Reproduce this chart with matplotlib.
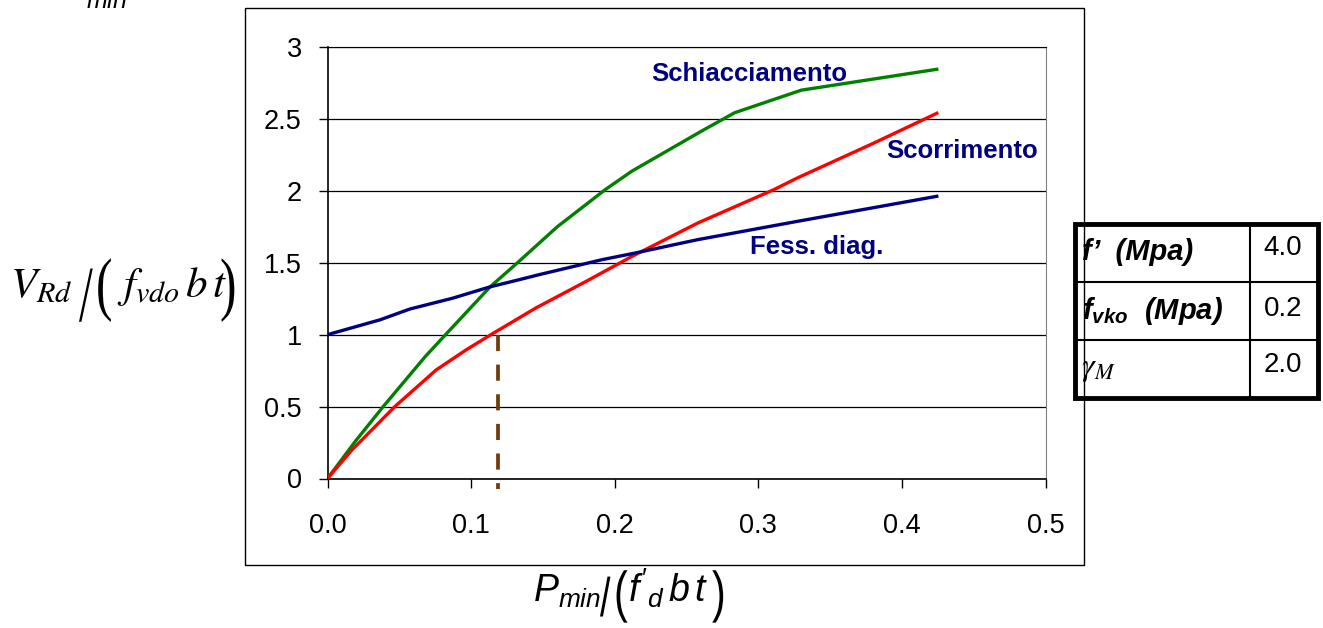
import matplotlib
matplotlib.use("Agg")
import matplotlib.pyplot as plt
from matplotlib.lines import Line2D
from matplotlib.patches import Rectangle, PathPatch
from matplotlib.textpath import TextPath
from matplotlib.font_manager import FontProperties
from matplotlib.transforms import Affine2D

plt.rcParams['font.family'] = ['Liberation Sans', 'DejaVu Sans']
plt.rcParams['mathtext.fontset'] = 'custom'
plt.rcParams['mathtext.rm'] = 'Liberation Sans'
plt.rcParams['mathtext.it'] = 'Liberation Sans:italic'
plt.rcParams['mathtext.bf'] = 'Liberation Sans:italic:bold'

# curves
x_schiacc = [0.0, 0.0195, 0.0388, 0.068, 0.0822, 0.113, 0.1334, 0.16, 0.1935, 0.212, 0.2604, 0.2835, 0.33, 0.4243]
y_schiacc = [0.0, 0.26, 0.5, 0.847, 1.0, 1.33, 1.51, 1.75, 2.009, 2.137, 2.415, 2.543, 2.70, 2.845]

x_scorr = [0.0, 0.0169, 0.0469, 0.0757, 0.0965, 0.1138, 0.145, 0.18, 0.212, 0.258, 0.311, 0.3273, 0.38, 0.4243]
y_scorr = [0.0, 0.197, 0.5, 0.755, 0.894, 1.0, 1.185, 1.37, 1.544, 1.777, 2.009, 2.09, 2.33, 2.539]

x_fess = [0.0, 0.0365, 0.0573, 0.0873, 0.1127, 0.1334, 0.1473, 0.191, 0.214, 0.258, 0.3273, 0.4243]
y_fess = [1.0, 1.103, 1.178, 1.254, 1.331, 1.382, 1.417, 1.521, 1.567, 1.661, 1.788, 1.962]

x_mark = 0.1184
y_mark = 1.0

xticks = [0.0, 0.1, 0.2, 0.3, 0.4, 0.5]
yticks = [0, 0.5, 1, 1.5, 2, 2.5, 3]
ytick_labels = ['0', '0.5', '1', '1.5', '2', '2.5', '3']

tab_names = [r"f’  (Mpa)", r"$\mathbf{f_{vko}}$  (Mpa)", r"$\gamma_M$"]
tab_values = ['4.0', '0.2', '2.0']

FW, FH = 13.23, 6.28
fig = plt.figure(figsize=(FW, FH), dpi=100)
W, H = 1323.0, 628.0

def fx(px):
    return px / W

def fy(py):
    return 1 - py / H

def big_glyph(ch, family, size, px, py, sx, sy):
    # a glyph stretched vertically (equation-editor style brackets and slash)
    path = TextPath((0, 0), ch, size=size, prop=FontProperties(family=family))
    tr = Affine2D().scale(sx / 72.0 / FW, sy / 72.0 / FH).translate(fx(px), fy(py)) + fig.transFigure
    fig.add_artist(PathPatch(path, transform=tr, facecolor='black', edgecolor='none'))

# outer frame around the chart
fig.add_artist(Rectangle((fx(245), fy(565)), fx(1084) - fx(245), fy(8) - fy(565),
                         transform=fig.transFigure, fill=False, edgecolor='black',
                         linewidth=1.0, zorder=5))

ax = fig.add_axes([fx(327.5), fy(478.5), fx(1045.5) - fx(327.5), fy(47) - fy(478.5)])

ax.plot(x_schiacc, y_schiacc, color='#008000', linewidth=2.4, zorder=3)
ax.plot(x_scorr, y_scorr, color='#ff0000', linewidth=2.4, zorder=3)
ax.plot(x_fess, y_fess, color='#000080', linewidth=2.4, zorder=4)
ax.plot([x_mark, x_mark], [y_mark, -0.07], color='#6e3c0c', linewidth=2.7,
        linestyle=(0, (4.3, 3.6)), clip_on=False, zorder=2)

ax.set_xlim(0, 0.5)
ax.set_ylim(0, 3)
ax.set_xticks(xticks)
ax.set_xticklabels(['%.1f' % v for v in xticks])
ax.set_yticks(yticks)
ax.set_yticklabels(ytick_labels)
ax.tick_params(axis='both', labelsize=19.5, direction='out', length=6.5, width=1, color='black')
ax.tick_params(axis='x', pad=18)
ax.tick_params(axis='y', pad=12)
ax.grid(axis='y', color='black', linewidth=0.9)
ax.spines['top'].set_color('black')
ax.spines['right'].set_color('#808080')
for s in ['left', 'bottom']:
    ax.spines[s].set_linewidth(1.2)

ax.text(0.294, 2.81, 'Schiacciamento', color='#000080', fontsize=18.5, fontweight='bold',
        ha='center', va='center')
ax.text(0.442, 2.28, 'Scorrimento', color='#000080', fontsize=18.5, fontweight='bold',
        ha='center', va='center', clip_on=False)
ax.text(0.341, 1.61, 'Fess. diag.', color='#000080', fontsize=18.5, fontweight='bold',
        ha='center', va='center')

# y axis title, built from pieces so the slash and brackets can be taller
fig.text(fx(10), fy(297), r'$V_{Rd}$', fontsize=31, ha='left', va='baseline',
         math_fontfamily='stix')
big_glyph('/', 'Liberation Serif', 31, 79, 321, 1.15, 1.85)
big_glyph('(', 'Liberation Serif', 31, 96, 307, 1.15, 1.63)
fig.text(fx(117), fy(297), r'$f_{vdo}\,b\,t$', fontsize=31, ha='left', va='baseline',
         math_fontfamily='stix')
big_glyph(')', 'Liberation Serif', 31, 220, 307, 1.15, 1.63)

# x axis title
fig.text(fx(533), fy(602), r'$P_{min}$', fontsize=27, ha='left', va='baseline')
big_glyph('/', 'Liberation Sans', 27, 600, 616, 1.0, 1.45)
big_glyph('(', 'Liberation Sans', 27, 614, 611, 1.1, 1.5)
fig.text(fx(628), fy(602), r"$f'_{d}\,b\,t$", fontsize=27, ha='left', va='baseline')
big_glyph(')', 'Liberation Sans', 27, 712, 611, 1.1, 1.5)

# cut-off text at the very top
fig.text(fx(107), fy(8), '$min$', fontsize=18, ha='center', va='baseline')

# parameter table
tl, tr, tt, tb = 1075, 1318, 224, 398
col = 1250
rows = [224, 282, 340, 398]
fig.add_artist(Rectangle((fx(tl), fy(tb)), fx(tr) - fx(tl), fy(tt) - fy(tb),
                         transform=fig.transFigure, fill=False, edgecolor='black',
                         linewidth=3.5, zorder=6))
fig.add_artist(Line2D([fx(col), fx(col)], [fy(tt), fy(tb)], transform=fig.transFigure,
                      color='black', linewidth=1.5, zorder=6))
for r in rows[1:-1]:
    fig.add_artist(Line2D([fx(tl), fx(tr)], [fy(r), fy(r)], transform=fig.transFigure,
                          color='black', linewidth=1.5, zorder=6))
name_y = [252, 311, 369]
value_y = [248, 309, 365]
for i in range(3):
    if i < 2:
        fig.text(fx(1082), fy(name_y[i]), tab_names[i], fontsize=21, fontweight='bold',
                 style='italic', ha='left', va='center')
    else:
        fig.text(fx(1081), fy(name_y[i]), tab_names[i], fontsize=23, ha='left', va='center',
                 math_fontfamily='stix')
    fig.text(fx(1283), fy(value_y[i]), tab_values[i], fontsize=20, ha='center', va='center')

fig.savefig('out.png', dpi=100)
